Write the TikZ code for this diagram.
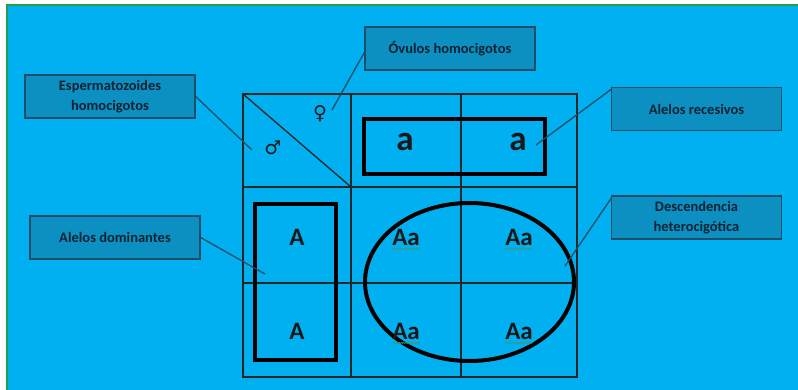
\documentclass[tikz,border=0pt]{standalone}
\usepackage{fontspec}
\setmainfont{Carlito}[BoldFont={Carlito Bold}]
\newfontfamily\symfont{DejaVu Sans Bold}
\usetikzlibrary{decorations.pathmorphing}
\definecolor{bgblue}{HTML}{00B0F0}
\definecolor{boxblue}{HTML}{0C90C2}
\definecolor{boxedge}{HTML}{1E4D68}
\definecolor{txtdark}{HTML}{0B2233}
\definecolor{linedark}{HTML}{244C63}
\definecolor{frgreen}{HTML}{22A050}
\definecolor{wavy}{HTML}{3E9A70}
\tikzset{
  callout/.style={draw=boxedge, line width=1.3pt, fill=boxblue, text=txtdark,
    font=\bfseries\fontsize{14.5}{20}\selectfont, align=center, inner sep=0pt,
    minimum width=170pt, minimum height=43pt},
  pointer/.style={draw=linedark, line width=1.3pt},
  gridline/.style={draw=black!85, line width=1.3pt},
  thick box/.style={draw=black, line width=4pt},
  big letter/.style={font=\bfseries\fontsize{25}{25}\selectfont, text=black!90, inner sep=0pt},
  huge letter/.style={font=\bfseries\fontsize{35}{35}\selectfont, text=black!90, inner sep=0pt},
  sexsym/.style={font=\symfont\fontsize{19}{19}\selectfont, text=black!90, inner sep=0pt},
  spell/.style={draw=wavy, line width=0.6pt, decorate,
    decoration={snake, segment length=2.2pt, amplitude=0.7pt}}
}
\begin{document}
\begin{tikzpicture}[x=1pt, y=-1pt]
\useasboundingbox (0,0) rectangle (798,390);
% background and frame
\fill[white] (0,0) rectangle (798,390);
\fill[bgblue] (7,5) rectangle (798,390);
\draw[frgreen, line width=2pt] (7,390) -- (7,5) -- (798,5);

% grid
\draw[gridline] (243,94) rectangle (577,377);
\draw[gridline] (351,94) -- (351,377);
\draw[gridline] (461,94) -- (461,377);
\draw[gridline] (243,187) -- (577,187);
\draw[gridline] (243,283) -- (577,283);
\draw[gridline] (243,94) -- (351,187);

% sex symbols
\node[sexsym] (fem) at (320,114) {♀};
\node[sexsym] (mal) at (273,148) {♂};

% recessive box
\draw[thick box] (364,119) rectangle (545,174);
\node[huge letter] (a1) at (405,142) {a};
\node[huge letter] (a2) at (518,142) {a};

% dominant box
\draw[thick box] (255,204) rectangle (336,360);
\node[big letter] (A1) at (297,237) {A};
\node[big letter] (A2) at (297,331) {A};

% ellipse
\draw[line width=4pt, black] (469.5,282) ellipse [x radius=104.5pt, y radius=79pt];
\node[big letter] (h1) at (406,237) {Aa};
\node[big letter] (h2) at (519,237) {Aa};
\node[big letter] (h3) at (406,331) {Aa};
\node[big letter] (h4) at (519,331) {Aa};
\foreach \n in {h1,h2,h3,h4}{
  \draw[spell] ([yshift=-3.5pt]\n.south west) -- ([yshift=-3.5pt]\n.south east);
}

% callouts
\node[callout] (esp) at (110,96.5) {Espermatozoides\\homocigotos};
\node[callout] (ovu) at (450,48.5) {Óvulos homocigotos};
\node[callout] (rec) at (696.5,109) {Alelos recesivos};
\node[callout] (dom) at (115,237.5) {Alelos dominantes};
\node[callout] (het) at (696.5,217.5) {Descendencia\\heterocigótica};

\coordinate (pEsp) at (252,150);
\coordinate (pOvu) at (332,110);
\coordinate (pRec) at (536,145);
\coordinate (pDom) at (265,274);
\coordinate (pHet) at (565,266);

\draw[pointer] (esp.east) -- (pEsp);
\draw[pointer] ([yshift=-4pt]ovu.west) -- (pOvu);
\draw[pointer] ([shift={(1pt,-2pt)}]rec.north west) -- (pRec);
\draw[pointer] (dom.east) -- (pDom);
\draw[pointer] ([shift={(1pt,-2pt)}]het.north west) -- (pHet);
\end{tikzpicture}
\end{document}
